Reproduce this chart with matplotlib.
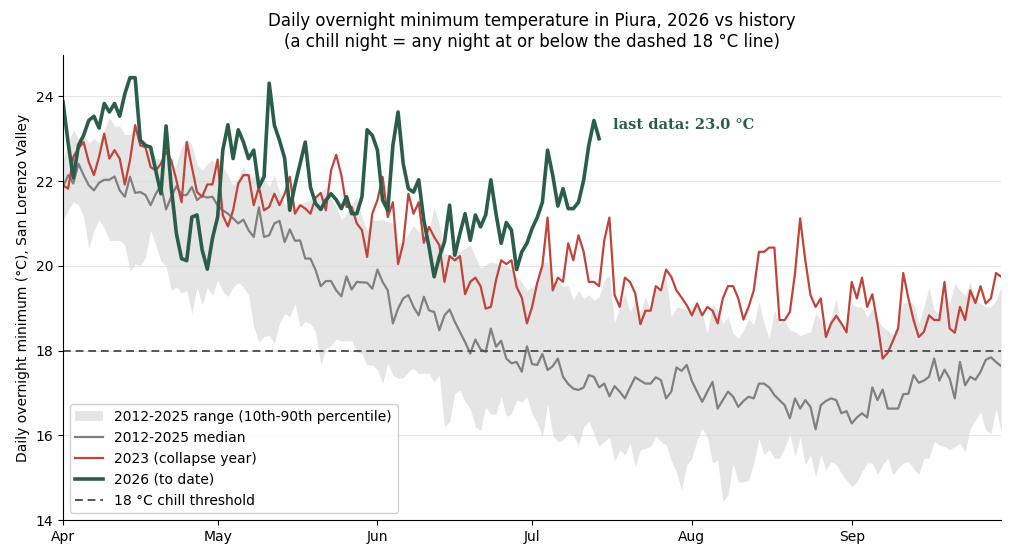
import numpy as np
import pandas as pd
import matplotlib
matplotlib.use("Agg")
import matplotlib.pyplot as plt
import matplotlib.dates as mdates

# daily values, Apr 1 .. Sep 30
dates = pd.date_range("2026-04-01", "2026-09-30", freq="D")

band_low = [
    21.08, 21.31, 21.5, 21.45, 21.15, 20.41, 20.84, 21.08, 20.9, 20.6,
    20.6, 20.6, 20.49, 19.86, 20.05, 20.0, 20.2, 20.84, 20.49, 20.1,
    20.0, 19.42, 19.5, 19.35, 19.42, 18.87, 19.5, 19.07, 19.5, 19.3,
    19.66, 19.4, 19.27, 19.5, 19.6, 19.5, 19.31, 18.56, 18.2, 18.33,
    18.36, 18.17, 18.64, 18.87, 18.8, 19.11, 18.56, 18.68, 18.64, 18.44,
    17.66, 18.05, 18.12, 18.27, 18.23, 18.23, 18.23, 17.97, 17.93, 17.66,
    17.66, 17.55, 17.22, 17.7, 17.42, 17.34, 17.36, 17.5, 17.58, 17.46,
    17.46, 17.46, 17.26, 17.42, 16.2, 16.32, 16.99, 17.07, 16.79, 16.63,
    16.2, 16.12, 16.67, 16.5, 16.5, 16.91, 16.44, 16.52, 16.83, 16.79,
    16.91, 16.5, 16.3, 15.96, 16.75, 16.0, 15.85, 15.89, 16.04, 16.0,
    15.75, 16.2, 16.32, 16.04, 15.74, 15.85, 15.96, 15.38, 15.66, 15.54,
    15.81, 15.26, 15.66, 15.69, 15.74, 15.98, 15.85, 15.77, 15.4, 15.14,
    14.71, 15.3, 15.46, 15.89, 16.16, 15.96, 15.34, 15.42, 14.43, 14.59,
    15.34, 14.9, 14.9, 14.94, 15.34, 15.93, 15.54, 15.66, 15.46, 15.46,
    15.7, 16.03, 15.5, 15.95, 15.3, 15.54, 15.02, 15.54, 15.19, 15.38,
    15.31, 15.1, 14.94, 14.79, 14.9, 15.14, 15.35, 15.34, 15.07, 15.3,
    15.46, 15.07, 15.22, 15.34, 15.38, 15.22, 15.07, 15.46, 15.46, 15.85,
    15.77, 15.73, 15.66, 15.73, 15.81, 15.61, 16.16, 16.36, 16.55, 16.12,
    16.04, 16.63, 16.1,
]

band_high = [
    22.5, 22.9, 23.2, 23.0, 23.1, 22.9, 23.0, 22.9, 23.2, 23.5,
    23.3, 23.3, 23.1, 23.1, 23.3, 23.0, 22.95, 22.7, 22.55, 22.5,
    22.6, 22.25, 22.4, 22.8, 23.0, 22.85, 22.4, 22.25, 22.4, 22.5,
    22.3, 22.33, 22.14, 21.9, 22.1, 22.35, 22.06, 22.1, 22.14, 22.06,
    21.86, 22.14, 21.74, 21.47, 21.39, 21.39, 21.47, 21.51, 21.55, 21.63,
    21.74, 21.86, 21.59, 21.39, 21.08, 21.23, 21.47, 21.63, 21.15, 20.84,
    21.08, 21.08, 21.1, 21.04, 21.0, 20.53, 20.57, 20.76, 20.95, 20.8,
    20.84, 20.8, 21.39, 20.96, 20.29, 20.25, 20.45, 20.33, 20.41, 20.49,
    20.21, 19.94, 20.02, 20.1, 20.06, 20.02, 19.98, 19.9, 19.74, 19.62,
    19.42, 19.5, 19.62, 20.05, 20.1, 19.62, 19.66, 19.5, 19.54, 19.19,
    19.42, 19.23, 19.32, 19.19, 19.27, 19.66, 19.78, 18.65, 19.03, 19.35,
    18.9, 19.19, 18.9, 19.26, 18.9, 19.43, 19.47, 19.74, 18.79, 19.03,
    19.0, 18.95, 19.03, 19.11, 18.87, 18.4, 19.11, 18.95, 18.64, 18.79,
    18.4, 18.29, 18.48, 18.75, 18.6, 19.15, 18.64, 18.29, 18.95, 18.64,
    18.72, 18.48, 18.44, 18.35, 18.4, 18.44, 18.87, 18.72, 18.48, 18.79,
    19.23, 18.48, 18.72, 19.11, 19.03, 19.03, 18.79, 18.99, 18.72, 18.56,
    18.48, 18.37, 18.64, 19.11, 19.15, 19.11, 18.64, 19.03, 19.5, 18.95,
    18.87, 19.42, 19.11, 19.58, 19.42, 19.3, 19.62, 19.19, 19.11, 19.03,
    19.03, 19.19, 19.5,
]

median = [
    21.86, 22.14, 21.94, 22.41, 22.14, 21.9, 21.78, 21.96, 22.03, 22.03,
    22.11, 21.78, 21.63, 22.1, 21.72, 21.74, 21.67, 21.43, 21.7, 21.9,
    21.33, 21.63, 21.88, 21.67, 21.67, 21.86, 21.55, 21.65, 21.61, 21.63,
    21.42, 21.31, 21.23, 21.12, 21.0, 21.09, 20.84, 20.68, 21.38, 20.68,
    20.72, 21.0, 21.06, 20.56, 20.86, 20.59, 20.6, 20.17, 20.17, 19.9,
    19.52, 19.64, 19.64, 19.42, 19.28, 19.75, 19.44, 19.62, 19.61, 19.6,
    19.46, 19.91, 19.62, 19.42, 18.64, 18.99, 19.23, 19.31, 19.03, 18.83,
    19.27, 18.95, 18.91, 18.48, 18.83, 18.97, 18.68, 18.44, 18.2, 17.93,
    18.26, 18.03, 17.97, 18.52, 18.09, 18.23, 17.81, 17.7, 17.73, 17.5,
    18.1, 17.68, 17.66, 17.92, 17.54, 17.63, 17.81, 17.38, 17.21, 17.1,
    17.07, 17.13, 17.42, 17.38, 17.13, 17.22, 16.92, 17.16, 17.03, 16.87,
    17.13, 17.37, 17.29, 17.22, 17.22, 17.37, 17.3, 16.87, 17.03, 17.6,
    17.52, 17.66, 17.28, 17.03, 16.79, 17.03, 17.26, 16.63, 16.83, 17.03,
    16.91, 16.67, 16.81, 16.91, 16.87, 17.22, 17.22, 17.13, 16.95, 16.83,
    16.71, 16.4, 16.87, 16.63, 16.83, 16.67, 16.14, 16.71, 16.81, 16.87,
    16.83, 16.52, 16.57, 16.28, 16.42, 16.52, 16.42, 17.13, 16.83, 17.08,
    16.63, 16.63, 16.63, 16.97, 16.98, 17.42, 17.24, 17.29, 17.38, 17.81,
    17.29, 17.55, 17.34, 16.87, 17.73, 17.18, 17.38, 17.31, 17.5, 17.78,
    17.84, 17.73, 17.63,
]

y2023 = [
    21.9, 21.82, 22.57, 22.77, 22.92, 22.45, 22.14, 22.57, 23.12, 22.53,
    22.73, 22.53, 21.92, 22.49, 23.32, 22.84, 22.8, 22.33, 22.25, 22.41,
    22.69, 22.49, 22.02, 21.5, 22.92, 22.33, 21.74, 21.63, 21.92, 21.92,
    22.51, 21.19, 20.93, 21.31, 21.94, 22.14, 22.14, 21.43, 21.86, 21.31,
    21.39, 21.7, 21.43, 21.7, 22.1, 21.23, 21.43, 21.35, 21.23, 21.61,
    21.72, 21.31, 22.25, 22.62, 22.14, 21.39, 21.39, 21.0, 20.84, 20.21,
    21.23, 21.55, 22.1, 21.15, 21.5, 20.04, 20.53, 21.7, 21.23, 21.5,
    20.54, 20.92, 20.68, 20.49, 19.62, 20.23, 20.13, 20.23, 19.33, 19.62,
    19.72, 19.52, 18.99, 19.03, 19.66, 20.13, 20.04, 20.13, 19.5, 19.25,
    18.64, 19.03, 19.6, 20.01, 21.14, 19.42, 19.72, 19.62, 20.53, 20.13,
    20.72, 20.33, 19.62, 19.62, 19.52, 20.6, 21.14, 19.31, 19.03, 19.72,
    19.62, 19.35, 18.62, 18.94, 18.94, 19.52, 19.42, 19.91, 19.74, 19.42,
    19.25, 19.07, 18.83, 19.11, 18.83, 19.03, 18.94, 18.64, 19.23, 19.52,
    19.52, 19.23, 18.73, 19.03, 19.42, 20.33, 20.33, 20.43, 20.43, 18.72,
    18.72, 18.91, 19.82, 21.12, 20.13, 19.31, 19.03, 19.23, 18.32, 18.64,
    18.82, 18.64, 18.43, 19.62, 19.23, 19.72, 19.03, 19.33, 18.64, 17.81,
    17.95, 18.23, 18.52, 19.83, 19.23, 18.72, 18.32, 18.44, 18.83, 18.72,
    18.72, 19.62, 18.52, 18.42, 19.03, 18.72, 19.42, 19.12, 19.52, 19.11,
    19.23, 19.83, 19.74,
]

# 2026 so far (Apr 1 .. Jul 14)
y2026 = [
    23.87, 22.9, 22.07, 22.84, 23.08, 23.43, 23.53, 23.25, 23.83, 23.63,
    23.83, 23.53, 24.06, 24.44, 24.44, 22.96, 22.84, 22.8, 22.25, 21.7,
    23.3, 21.86, 20.76, 20.17, 20.12, 21.15, 21.2, 20.37, 19.92, 20.65,
    21.15, 22.73, 23.33, 22.53, 23.21, 22.92, 22.53, 22.73, 21.86, 22.1,
    24.31, 23.32, 22.96, 22.54, 21.31, 21.9, 22.41, 22.92, 21.86, 21.47,
    21.33, 21.55, 21.7, 21.56, 21.35, 21.63, 21.23, 21.23, 21.63, 23.21,
    23.08, 22.73, 21.55, 21.31, 22.84, 23.63, 22.41, 21.82, 21.74, 22.03,
    21.07, 20.45, 19.74, 20.21, 20.56, 21.43, 20.25, 20.76, 21.23, 20.6,
    21.2, 20.92, 21.2, 22.03, 21.23, 20.53, 21.02, 20.84, 19.91, 20.33,
    20.53, 20.88, 21.14, 21.5, 22.73, 22.14, 21.41, 21.82, 21.35, 21.35,
    21.5, 22.02, 22.84, 23.43, 23.0,
]

threshold = 18.0

green = "#2a5e4b"
red = "#c0443a"

fig = plt.figure(figsize=(10.11, 5.6), dpi=100)
ax = fig.add_axes([0.0623, 0.0714, 0.928, 0.830])

ax.fill_between(dates, band_low, band_high, color="#d4d4d4", alpha=0.6,
                linewidth=0, label="2012-2025 range (10th-90th percentile)")
ax.plot(dates, median, color="#808080", lw=1.6, label="2012-2025 median")
ax.plot(dates, y2023, color=red, lw=1.6, label="2023 (collapse year)")
d26 = dates[:len(y2026)]
ax.plot(d26, y2026, color=green, lw=2.6, label="2026 (to date)")
ax.axhline(threshold, color="#555555", lw=1.4, ls=(0, (4, 2.5)),
           label="18 °C chill threshold")

ax.annotate(f"last data: {y2026[-1]:.1f} °C", xy=(d26[-1], y2026[-1]),
            xytext=(10, 5), textcoords="offset points",
            color=green, fontsize=10.5, fontweight="bold", family="DejaVu Serif",
            va="bottom", ha="left")

ax.set_xlim(dates[0], dates[-1])
ax.set_ylim(14, 24.97)
ax.set_yticks([14, 16, 18, 20, 22, 24])
ax.xaxis.set_major_locator(mdates.MonthLocator())
ax.xaxis.set_major_formatter(mdates.DateFormatter("%b"))
ax.tick_params(labelsize=10)
ax.grid(axis="y", color="#e6e6e6", lw=0.8)
ax.set_axisbelow(True)
for s in ["top", "right"]:
    ax.spines[s].set_visible(False)

ax.set_ylabel("Daily overnight minimum (°C), San Lorenzo Valley", fontsize=10)
ax.set_title("Daily overnight minimum temperature in Piura, 2026 vs history\n"
             "(a chill night = any night at or below the dashed 18 °C line)",
             fontsize=12)

ax.legend(loc="lower left", fontsize=10, framealpha=0.9, edgecolor="#cccccc")

fig.savefig("out.png", dpi=100)
